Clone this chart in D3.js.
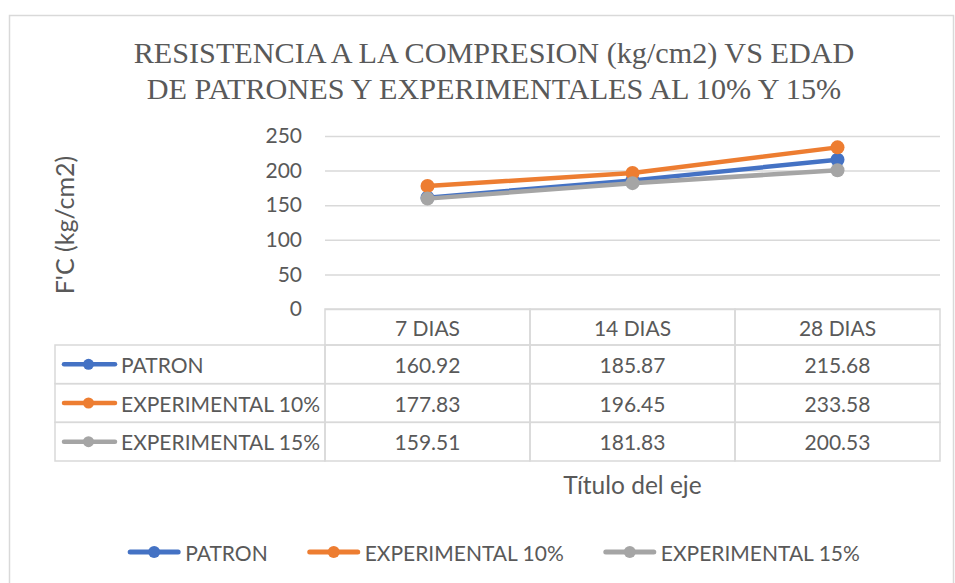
<!DOCTYPE html>
<html>
<head>
<meta charset="utf-8">
<script src="https://cdn.jsdelivr.net/npm/d3@7"></script>
<style>
  html, body { margin: 0; padding: 0; background: #fff; }
  svg { display: block; }
</style>
</head>
<body>
<svg id="chart" width="955" height="583"></svg>
<script>
// ---- data ----
const titleLines = ["RESISTENCIA A LA COMPRESION (kg/cm2) VS EDAD", "DE PATRONES Y EXPERIMENTALES AL 10% Y 15%"];
const categories = ["7 DIAS", "14 DIAS", "28 DIAS"];
const seriesNames = ["PATRON", "EXPERIMENTAL 10%", "EXPERIMENTAL 15%"];
const patron = [160.92, 185.87, 215.68];
const exp10 = [177.83, 196.45, 233.58];
const exp15 = [159.51, 181.83, 200.53];
const yTicks = [0, 50, 100, 150, 200, 250];
const yTitle = "F'C (kg/cm2)";
const xTitle = "Título del eje";
const colors = ["#4472C4", "#ED7D31", "#A5A5A5"];

const series = seriesNames.map((n, i) => ({ name: n, values: [patron, exp10, exp15][i], color: colors[i] }));

const svg = d3.select("#chart");
const textColor = "#595959";
const gridColor = "#D9D9D9";
const sans = "Lato, 'Open Sans', sans-serif";
const serif = "'Liberation Serif', 'Times New Roman', serif";
const fs = 21;

// chart border
svg.append("rect").attr("x", 9.5).attr("y", 15.5).attr("width", 944).attr("height", 600)
  .attr("fill", "#fff").attr("stroke", gridColor).attr("stroke-width", 1.5);

// title
svg.append("g").selectAll("text").data(titleLines).join("text")
  .attr("x", 494).attr("y", (d, i) => 63 + i * 36)
  .attr("text-anchor", "middle").attr("font-family", serif).attr("font-size", 30.2)
  .attr("fill", textColor).text(d => d);

// scales
const plotLeft = 325, plotRight = 940, plotTop = 136, plotBottom = 309;
const x = d3.scaleBand().domain(categories).range([plotLeft, plotRight]);
const y = d3.scaleLinear().domain([0, 250]).range([plotBottom, plotTop]);
const cx = c => x(c) + x.bandwidth() / 2;

// y axis with gridlines
const yAxis = svg.append("g").attr("transform", `translate(${plotLeft},0)`)
  .call(d3.axisLeft(y).tickValues(yTicks).tickSize(-(plotRight - plotLeft)).tickPadding(23));
yAxis.select(".domain").remove();
yAxis.selectAll(".tick line").attr("stroke", gridColor).attr("stroke-width", 1.5);
yAxis.selectAll(".tick text").attr("fill", textColor).attr("font-family", sans).attr("font-size", fs);

// y title
svg.append("text").attr("transform", `translate(64,225) rotate(-90)`)
  .attr("text-anchor", "middle").attr("dominant-baseline", "central")
  .attr("font-family", sans).attr("font-size", 25).attr("fill", textColor).text(yTitle);

// lines + markers
const line = d3.line().x((d, i) => cx(categories[i])).y(d => y(d));
const sg = svg.append("g").selectAll("g").data(series).join("g");
sg.append("path").attr("d", d => line(d.values)).attr("fill", "none")
  .attr("stroke", d => d.color).attr("stroke-width", 4.5).attr("stroke-linejoin", "round").attr("stroke-linecap", "round");
sg.selectAll("circle").data(d => d.values.map((v, i) => ({ v, i, color: d.color }))).join("circle")
  .attr("cx", d => cx(categories[d.i])).attr("cy", d => y(d.v)).attr("r", 7).attr("fill", d => d.color);

// data table
const tableLeft = 55, headerBottom = 345;
const rowH = (461 - headerBottom) / series.length;
const tg = svg.append("g").attr("stroke", gridColor).attr("stroke-width", 1.5).attr("fill", "none");
categories.forEach(c => {
  tg.append("rect").attr("x", x(c)).attr("y", plotBottom).attr("width", x.bandwidth()).attr("height", headerBottom - plotBottom);
});
series.forEach((s, r) => {
  const ry = headerBottom + r * rowH;
  tg.append("rect").attr("x", tableLeft).attr("y", ry).attr("width", plotLeft - tableLeft).attr("height", rowH);
  categories.forEach(c => {
    tg.append("rect").attr("x", x(c)).attr("y", ry).attr("width", x.bandwidth()).attr("height", rowH);
  });
});
svg.append("g").selectAll("text").data(categories).join("text")
  .attr("x", d => cx(d)).attr("y", (plotBottom + headerBottom) / 2)
  .attr("text-anchor", "middle").attr("dominant-baseline", "central")
  .attr("font-family", sans).attr("font-size", fs).attr("fill", textColor).text(d => d);
series.forEach((s, r) => {
  const ryc = headerBottom + r * rowH + rowH / 2;
  const row = svg.append("g");
  row.append("line").attr("x1", 64).attr("x2", 115).attr("y1", ryc).attr("y2", ryc)
    .attr("stroke", s.color).attr("stroke-width", 4.5).attr("stroke-linecap", "round");
  row.append("circle").attr("cx", 88.5).attr("cy", ryc).attr("r", 5.5).attr("fill", s.color);
  row.append("text").attr("x", 121).attr("y", ryc).attr("dominant-baseline", "central")
    .attr("font-family", sans).attr("font-size", fs).attr("fill", textColor).text(s.name);
  row.selectAll("text.v").data(s.values).join("text").attr("class", "v")
    .attr("x", (d, i) => cx(categories[i])).attr("y", ryc)
    .attr("text-anchor", "middle").attr("dominant-baseline", "central")
    .attr("font-family", sans).attr("font-size", fs).attr("fill", textColor).text(d => d.toFixed(2));
});

// x title
svg.append("text").attr("x", cx(categories[1])).attr("y", 484)
  .attr("text-anchor", "middle").attr("dominant-baseline", "central")
  .attr("font-family", sans).attr("font-size", 24.5).attr("fill", textColor).text(xTitle);

// bottom legend
const lg = svg.append("g");
const items = lg.selectAll("g").data(series).join("g");
items.append("line").attr("x1", 2).attr("x2", 50).attr("y1", 0).attr("y2", 0)
  .attr("stroke", d => d.color).attr("stroke-width", 5).attr("stroke-linecap", "round");
items.append("circle").attr("cx", 26).attr("cy", 0).attr("r", 6).attr("fill", d => d.color);
items.append("text").attr("x", 57).attr("y", 0).attr("dominant-baseline", "central")
  .attr("font-family", sans).attr("font-size", fs).attr("fill", textColor).text(d => d.name);
let offs = 0; const offsets = [];
items.each(function () {
  offsets.push(offs);
  offs += 57 + d3.select(this).select("text").node().getComputedTextLength() + 40;
});
const total = offs - 40;
const startX = 494 - total / 2;
items.attr("transform", (d, i) => `translate(${startX + offsets[i]},552)`);
</script>
</body>
</html>
